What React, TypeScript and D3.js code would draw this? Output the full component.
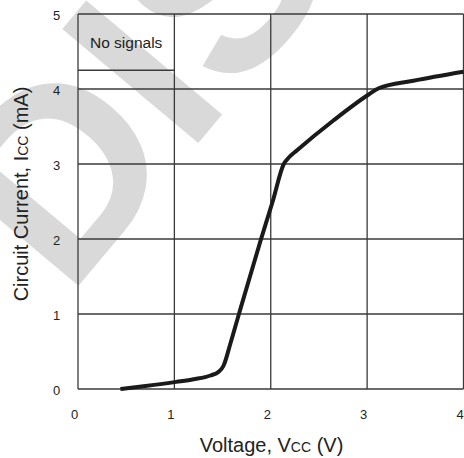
import React from "react";
import * as d3 from "d3";

const xTicks = [0, 1, 2, 3, 4];
const yTicks = [0, 1, 2, 3, 4, 5];
const voltage = [0.44, 0.7, 1.02, 1.2, 1.375, 1.46, 1.51, 1.58, 1.67, 1.89, 2.02, 2.135, 2.19, 2.27, 2.65, 3.02, 3.12, 3.48, 4.0];
const current = [0, 0.04, 0.095, 0.13, 0.18, 0.23, 0.31, 0.6, 1.0, 1.96, 2.5, 3.0, 3.09, 3.18, 3.58, 3.93, 4.01, 4.11, 4.23];
const noSignalLevel = 4.25;
const noSignalLabel = "No signals";
const watermark = "DISCONTINUED";

const W = 464;
const H = 458;
const FONT = "'Liberation Sans', Arial, Helvetica, sans-serif";

export default function App() {
  const x = d3.scaleLinear().domain([0, 4]).range([78, 463.5]);
  const y = d3.scaleLinear().domain([0, 5]).range([389, 14]);
  const pts: [number, number][] = voltage.map((v, i) => [v, current[i]]);
  const line = d3
    .line<[number, number]>()
    .x((d) => x(d[0]))
    .y((d) => y(d[1]))
    .curve(d3.curveMonotoneX);

  const gridColor = "#3a3a3a";

  return (
    <div style={{ position: "absolute", left: 0, top: 0 }}>
      <svg width={W} height={H} style={{ display: "block", background: "#fff" }}>
        <rect x={0} y={0} width={W} height={H} fill="#fff" />
        <text
          transform="translate(67.4,299) rotate(-50)"
          fontFamily={FONT}
          fontWeight="bold"
          fontSize={258}
          fill="#d9d9d9"
        >
          {watermark}
        </text>
        {xTicks.map((t) => (
          <line key={"gx" + t} x1={x(t)} x2={x(t)} y1={y(5)} y2={y(0)} stroke={gridColor} strokeWidth={1.3} />
        ))}
        {yTicks.map((t) => (
          <line key={"gy" + t} x1={x(0)} x2={x(4)} y1={y(t)} y2={y(t)} stroke={gridColor} strokeWidth={1.3} />
        ))}
        <line x1={x(0)} x2={x(1)} y1={y(noSignalLevel)} y2={y(noSignalLevel)} stroke={gridColor} strokeWidth={1.3} />
        <text x={(x(0) + x(1)) / 2} y={47.5} textAnchor="middle" fontFamily={FONT} fontSize={15.5} fill="#222">
          {noSignalLabel}
        </text>
        <path d={line(pts) || ""} fill="none" stroke="#1a1a1a" strokeWidth={4} strokeLinejoin="round" strokeLinecap="butt" />
        {yTicks.map((t) => (
          <text key={"ly" + t} x={56.5} y={y(t) + 6.3} textAnchor="middle" fontFamily={FONT} fontSize={13} fill="#222">
            {t}
          </text>
        ))}
        {xTicks.map((t) => (
          <text key={"lx" + t} x={x(t) - 3.5} y={419} textAnchor="middle" fontFamily={FONT} fontSize={13} fill="#222">
            {t}
          </text>
        ))}
        <text x={271.5} y={452} textAnchor="middle" fontFamily={FONT} fontSize={20} fill="#222">
          Voltage, V<tspan fontSize={14}>CC</tspan> (V)
        </text>
        <text
          transform="translate(28,194) rotate(-90)"
          textAnchor="middle"
          fontFamily={FONT}
          fontSize={20}
          fill="#222"
        >
          Circuit Current, I<tspan fontSize={14}>CC</tspan> (mA)
        </text>
      </svg>
    </div>
  );
}
